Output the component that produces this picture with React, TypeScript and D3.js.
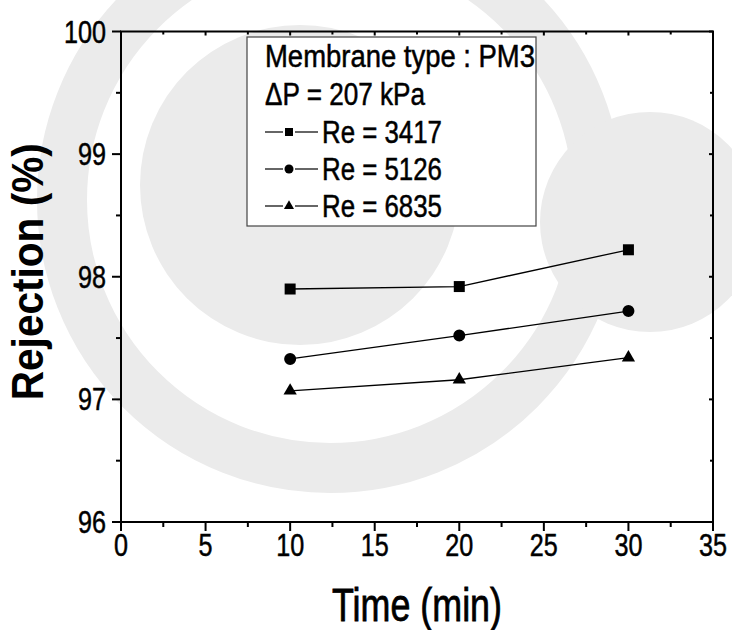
import React from "react";
import * as d3 from "d3";

// values
const times = [10, 20, 30];
const re3417 = [97.9, 97.92, 98.22];
const re5126 = [97.33, 97.52, 97.72];
const re6835 = [97.07, 97.16, 97.34];

const seriesNames = ["Re = 3417", "Re = 5126", "Re = 6835"];
const seriesSymbols = [d3.symbolSquare, d3.symbolCircle, d3.symbolTriangle];
const seriesValues = [re3417, re5126, re6835];

const xTicks = [0, 5, 10, 15, 20, 25, 30, 35];
const xMinor = [2.5, 7.5, 12.5, 17.5, 22.5, 27.5, 32.5];
const yTicks = [96, 97, 98, 99, 100];
const yMinor = [96.5, 97.5, 98.5, 99.5];

const legendHead = ["Membrane type : PM3", "\u0394P = 207 kPa"];

const font = "'Liberation Sans', Arial, Helvetica, sans-serif";
const wm = "#ebebeb";

const App = () => {
  const W = 732;
  const H = 630;
  const left = 121, right = 713, top = 31.5, bottom = 522;

  const x = d3.scaleLinear().domain([0, 35]).range([left, right]);
  const y = d3.scaleLinear().domain([96, 100]).range([bottom, top]);

  const line = d3
    .line<number>()
    .x((d, i) => x(times[i]))
    .y((d) => y(d));

  const bigSize = [121, 113, 76];
  const smallSize = [64, 64, 44];

  // heavier, narrow looking text
  const ink = { fill: "#000", stroke: "#000", strokeWidth: 0.5 };

  return (
    <svg
      width={W}
      height={H}
      style={{ position: "absolute", left: 0, top: 0, background: "#fff" }}
      fontFamily={font}
    >
      {/* faint watermark behind the chart */}
      <g fill={wm} stroke="none">
        <circle cx={330} cy={200} r={268} fill="none" stroke={wm} strokeWidth={50} />
        <circle cx={300} cy={185} r={160} />
        <circle cx={650} cy={222} r={110} />
      </g>

      {/* series */}
      {seriesValues.map((vals, s) => (
        <g key={s}>
          <path d={line(vals) || ""} fill="none" stroke="#000" strokeWidth={1.3} />
          {vals.map((v, i) => (
            <path
              key={i}
              d={d3.symbol(seriesSymbols[s], bigSize[s])() || ""}
              transform={`translate(${x(times[i])},${y(v)})`}
              fill="#000"
            />
          ))}
        </g>
      ))}

      {/* frame */}
      <rect x={left} y={top} width={right - left} height={bottom - top} fill="none" stroke="#000" strokeWidth={2} />

      {/* bottom axis */}
      {xTicks.map((t) => (
        <g key={"x" + t}>
          <line x1={x(t)} x2={x(t)} y1={bottom} y2={bottom + 9} stroke="#000" strokeWidth={2} />
          <line x1={x(t)} x2={x(t)} y1={top} y2={top + 4} stroke="#000" strokeWidth={2} />
          <text
            x={x(t)}
            y={556}
            fontSize={31}
            textAnchor="middle"
            textLength={String(t).length * 14}
            lengthAdjust="spacingAndGlyphs"
            {...ink}
          >
            {t}
          </text>
        </g>
      ))}
      {xMinor.map((t) => (
        <g key={"xm" + t}>
          <line x1={x(t)} x2={x(t)} y1={bottom} y2={bottom + 5} stroke="#000" strokeWidth={2} />
          <line x1={x(t)} x2={x(t)} y1={top} y2={top + 3} stroke="#000" strokeWidth={2} />
        </g>
      ))}

      {/* left axis */}
      {yTicks.map((t) => (
        <g key={"y" + t}>
          <line x1={left - 9} x2={left} y1={y(t)} y2={y(t)} stroke="#000" strokeWidth={2} />
          <line x1={right - 4} x2={right} y1={y(t)} y2={y(t)} stroke="#000" strokeWidth={2} />
          <text
            x={106}
            y={y(t) + 11}
            fontSize={31}
            textAnchor="end"
            textLength={String(t).length * 14}
            lengthAdjust="spacingAndGlyphs"
            {...ink}
          >
            {t}
          </text>
        </g>
      ))}
      {yMinor.map((t) => (
        <g key={"ym" + t}>
          <line x1={left - 5} x2={left} y1={y(t)} y2={y(t)} stroke="#000" strokeWidth={2} />
          <line x1={right - 3} x2={right} y1={y(t)} y2={y(t)} stroke="#000" strokeWidth={2} />
        </g>
      ))}

      {/* axis titles */}
      <text
        x={(left + right) / 2}
        y={621}
        fontSize={46}
        textAnchor="middle"
        textLength={170}
        lengthAdjust="spacingAndGlyphs"
        {...ink}
        strokeWidth={0.8}
      >
        Time (min)
      </text>
      <text
        transform={`translate(43,${(top + bottom) / 2 - 5}) rotate(-90)`}
        fontSize={44}
        fontWeight="bold"
        textAnchor="middle"
        textLength={257}
        lengthAdjust="spacingAndGlyphs"
      >
        Rejection (%)
      </text>

      {/* legend */}
      <g>
        <rect x={247} y={37} width={289} height={189} fill="#fff" stroke="#444" strokeWidth={1.2} />
        <text x={265} y={67} fontSize={31} textLength={270} lengthAdjust="spacingAndGlyphs" {...ink}>
          {legendHead[0]}
        </text>
        <text x={265} y={105} fontSize={31} textLength={160} lengthAdjust="spacingAndGlyphs" {...ink}>
          {legendHead[1]}
        </text>
        {seriesNames.map((name, s) => {
          const base = 143 + s * 37;
          const cy = base - 11;
          return (
            <g key={name}>
              <line x1={265} x2={283} y1={cy} y2={cy} stroke="#000" strokeWidth={1.2} />
              <line x1={295} x2={318} y1={cy} y2={cy} stroke="#000" strokeWidth={1.2} />
              <path
                d={d3.symbol(seriesSymbols[s], smallSize[s])() || ""}
                transform={`translate(289,${cy})`}
                fill="#000"
              />
              <text x={322} y={base} fontSize={31} textLength={120} lengthAdjust="spacingAndGlyphs" {...ink}>
                {name}
              </text>
            </g>
          );
        })}
      </g>
    </svg>
  );
};

export default App;
